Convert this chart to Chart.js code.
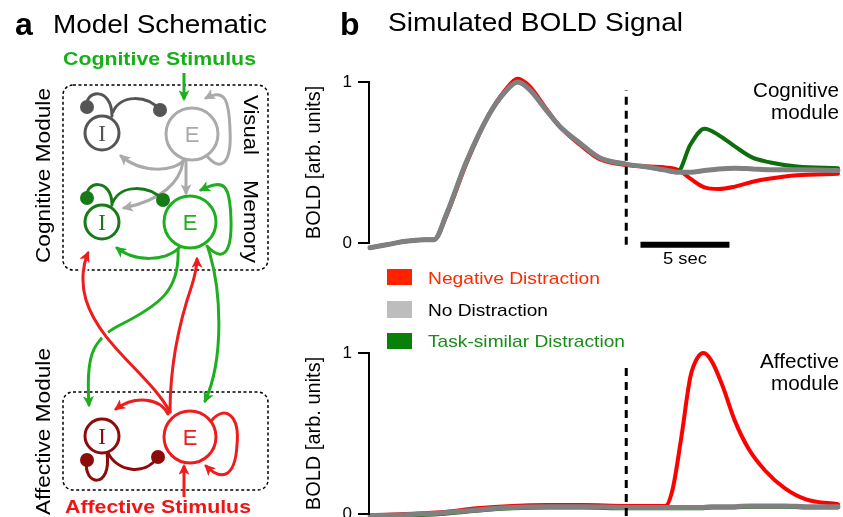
<!DOCTYPE html>
<html>
<head>
<meta charset="utf-8">
<script src="https://cdn.jsdelivr.net/npm/chart.js@4.4.1/dist/chart.umd.min.js"></script>
<style>
html, body { margin:0; padding:0; width:843px; height:517px; overflow:hidden; background:#fff; }
.plot { position:absolute; left:290px; width:553px; height:193px; z-index:1; }
#ov { position:absolute; left:0; top:0; z-index:2; pointer-events:none; }
#ov text { font-family:"Liberation Sans", Arial, Helvetica, sans-serif; }
</style>
</head>
<body>
<div class="plot" style="top:66px"><canvas id="cogChart"></canvas></div>
<div class="plot" style="top:337px"><canvas id="affChart"></canvas></div>

<svg id="ov" width="843" height="517" viewBox="0 0 843 517">
  <defs>
    <marker id="aGray" viewBox="0 0 10 10" refX="8" refY="5" markerWidth="11" markerHeight="11" markerUnits="userSpaceOnUse" orient="auto"><path d="M0,0 L10,5 L0,10 L2.5,5 z" fill="#aaaaaa"/></marker>
    <marker id="aGreen" viewBox="0 0 10 10" refX="8" refY="5" markerWidth="11" markerHeight="11" markerUnits="userSpaceOnUse" orient="auto"><path d="M0,0 L10,5 L0,10 L2.5,5 z" fill="#1fae1f"/></marker>
    <marker id="aRed" viewBox="0 0 10 10" refX="8" refY="5" markerWidth="11" markerHeight="11" markerUnits="userSpaceOnUse" orient="auto"><path d="M0,0 L10,5 L0,10 L2.5,5 z" fill="#ee1c1c"/></marker>
  </defs>

  <!-- panel titles -->
  <text x="15" y="35" font-size="32" font-weight="bold">a</text>
  <text x="53" y="33" font-size="25" textLength="214" lengthAdjust="spacingAndGlyphs">Model Schematic</text>
  <text x="340" y="35" font-size="32" font-weight="bold">b</text>
  <text x="388" y="31" font-size="25" textLength="295" lengthAdjust="spacingAndGlyphs">Simulated BOLD Signal</text>

  <!-- schematic -->
  <text x="63" y="65" font-size="18" font-weight="bold" fill="#18b018" textLength="193" lengthAdjust="spacingAndGlyphs">Cognitive Stimulus</text>
  <text x="65" y="513" font-size="18" font-weight="bold" fill="#f01414" textLength="186" lengthAdjust="spacingAndGlyphs">Affective Stimulus</text>
  <text transform="translate(50,263) rotate(-90)" font-size="21" textLength="175" lengthAdjust="spacingAndGlyphs">Cognitive Module</text>
  <text transform="translate(50,515) rotate(-90)" font-size="21" textLength="167" lengthAdjust="spacingAndGlyphs">Affective Module</text>
  <text transform="translate(244,95) rotate(90)" font-size="20" textLength="60" lengthAdjust="spacingAndGlyphs">Visual</text>
  <text transform="translate(244,180) rotate(90)" font-size="20" textLength="83" lengthAdjust="spacingAndGlyphs">Memory</text>

  <rect x="63" y="85" width="205" height="185" rx="10" fill="none" stroke="#000" stroke-width="1.5" stroke-dasharray="3,2.5"/>
  <rect x="63" y="392" width="205" height="98" rx="10" fill="none" stroke="#000" stroke-width="1.5" stroke-dasharray="3,2.5"/>

  <g fill="none" stroke-width="3" stroke-linecap="round">
    <!-- visual -->
    <path d="M87 107 C84 90, 112 86, 112 116" stroke="#555555"/>
    <path d="M113 112 C120 95, 146 94, 160 110" stroke="#555555"/>
    <path d="M185 159 C175 172, 142 174, 121 156" stroke="#aaaaaa" marker-end="url(#aGray)"/>
    <path d="M207 156 C220 172, 232 165, 230 130 C229 100, 225 88, 206 98" stroke="#aaaaaa" marker-end="url(#aGray)"/>
    <path d="M186 160 L186 193" stroke="#aaaaaa" marker-end="url(#aGray)"/>
    <path d="M183 162 C180 182, 162 200, 124 208" stroke="#aaaaaa" marker-end="url(#aGray)"/>
    <!-- memory -->
    <path d="M87 198 C84 181, 112 177, 112 205" stroke="#177a17"/>
    <path d="M113 202 C121 184, 149 185, 163 200" stroke="#177a17"/>
    <path d="M207 246 C222 262, 232 255, 231 220 C230 185, 225 178, 201 190" stroke="#1fae1f" marker-end="url(#aGreen)"/>
    <path d="M180 247 C165 262, 135 262, 117 248" stroke="#1fae1f" marker-end="url(#aGreen)"/>
    <!-- memory -> affective -->
    <path d="M178 249 C180 290, 160 305, 120 325 C90 340, 86 360, 89 405" stroke="#1fae1f" marker-end="url(#aGreen)"/>
    <path d="M208 248 C222 290, 224 360, 205 401" stroke="#1fae1f" marker-end="url(#aGreen)"/>
    <!-- affective -> memory -->
    <path d="M170 412 C150 375, 100 345, 86 300 C80 280, 84 262, 88 253" stroke="#ffffff" stroke-width="8"/>
    <path d="M170 412 C150 375, 100 345, 86 300 C80 280, 84 262, 88 253" stroke="#ee1c1c" marker-end="url(#aRed)"/>
    <path d="M170 412 C170 360, 180 320, 192 285 C195 275, 197 268, 197 259" stroke="#ee1c1c" marker-end="url(#aRed)"/>
    <!-- affective -->
    <path d="M168 414 C160 398, 135 395, 116 409" stroke="#ee1c1c" marker-end="url(#aRed)"/>
    <path d="M212 420 C225 405, 240 415, 237 445 C235 480, 220 480, 206 466" stroke="#ee1c1c" marker-end="url(#aRed)"/>
    <path d="M87 460 C82 486, 112 490, 107 453" stroke="#8e0b0b"/>
    <path d="M108 453 C118 472, 145 476, 158 457" stroke="#8e0b0b"/>
    <!-- stimuli -->
    <path d="M184 73 L184 99" stroke="#1fae1f" stroke-linecap="butt" marker-end="url(#aGreen)"/>
    <path d="M184 497 L184 466" stroke="#ee1c1c" stroke-linecap="butt" marker-end="url(#aRed)"/>
  </g>

  <g stroke-width="3" fill="#fff">
    <circle cx="102" cy="133" r="17" stroke="#555555"/>
    <circle cx="192" cy="134" r="26" stroke="#aaaaaa"/>
    <circle cx="102" cy="222" r="17" stroke="#177a17"/>
    <circle cx="190" cy="222" r="26" stroke="#1fae1f"/>
    <circle cx="102" cy="436" r="17" stroke="#8e0b0b"/>
    <circle cx="190" cy="437" r="26" stroke="#ee1c1c"/>
  </g>
  <g>
    <circle cx="87" cy="107" r="7" fill="#555555"/>
    <circle cx="160" cy="110" r="7" fill="#555555"/>
    <circle cx="87" cy="198" r="7" fill="#177a17"/>
    <circle cx="163" cy="200" r="7" fill="#177a17"/>
    <circle cx="87" cy="460" r="7" fill="#8e0b0b"/>
    <circle cx="158" cy="457" r="7" fill="#8e0b0b"/>
  </g>
  <g text-anchor="middle">
    <text x="102" y="141" font-size="23" fill="#555555" style="font-family:'Liberation Serif',serif">I</text>
    <text x="192" y="142" font-size="22" fill="#aaaaaa">E</text>
    <text x="102" y="230" font-size="23" fill="#177a17" style="font-family:'Liberation Serif',serif">I</text>
    <text x="190" y="230" font-size="22" fill="#1fae1f">E</text>
    <text x="102" y="444" font-size="23" fill="#8e0b0b" style="font-family:'Liberation Serif',serif">I</text>
    <text x="190" y="445" font-size="22" fill="#ee1c1c">E</text>
  </g>

  <!-- panel b annotations -->
  <text x="753" y="97" font-size="20" textLength="86" lengthAdjust="spacingAndGlyphs">Cognitive</text>
  <text x="771" y="119" font-size="20" textLength="68" lengthAdjust="spacingAndGlyphs">module</text>
  <text x="760" y="368" font-size="20" textLength="79" lengthAdjust="spacingAndGlyphs">Affective</text>
  <text x="771" y="390" font-size="20" textLength="68" lengthAdjust="spacingAndGlyphs">module</text>
  <text x="663" y="264" font-size="16" textLength="44" lengthAdjust="spacingAndGlyphs">5 sec</text>

  <!-- legend -->
  <rect x="387" y="269" width="25" height="16" fill="#ff2200"/>
  <rect x="387" y="301" width="25" height="17" fill="#bdbdbd"/>
  <rect x="387" y="333" width="25" height="16" fill="#0a800a"/>
  <text x="428" y="284" font-size="17" fill="#ff2a00" textLength="172" lengthAdjust="spacingAndGlyphs">Negative Distraction</text>
  <text x="428" y="316" font-size="17" fill="#000" textLength="120" lengthAdjust="spacingAndGlyphs">No Distraction</text>
  <text x="428" y="347" font-size="17" fill="#188c18" textLength="197" lengthAdjust="spacingAndGlyphs">Task-similar Distraction</text>
</svg>

<script>
// time in seconds after trial start, values in arb. units (max normalised to 1)
var cogTime = [0, 1, 2, 3, 3.6, 4.3, 5.4, 6.7, 7.6, 8.3, 9.0, 9.8, 10.7, 11.8, 12.9, 14.4, 15.7, 16.5, 17.3, 18.0, 18.8, 19.6, 20.5, 21.5, 22.5, 24.0, 26.3]
var cogNegative = [-0.03, -0.01, 0.01, 0.02, 0.02, 0.17, 0.49, 0.80, 0.95, 1.02, 0.97, 0.85, 0.72, 0.61, 0.52, 0.485, 0.475, 0.47, 0.455, 0.40, 0.345, 0.335, 0.35, 0.38, 0.40, 0.42, 0.43]
var cogNone = [-0.03, -0.01, 0.01, 0.02, 0.02, 0.18, 0.50, 0.80, 0.94, 1.0, 0.95, 0.84, 0.72, 0.62, 0.53, 0.49, 0.47, 0.455, 0.44, 0.44, 0.45, 0.46, 0.465, 0.46, 0.455, 0.455, 0.45]
var cogTask = [-0.03, -0.01, 0.01, 0.02, 0.02, 0.18, 0.50, 0.80, 0.94, 1.0, 0.95, 0.84, 0.72, 0.62, 0.53, 0.49, 0.47, 0.455, 0.445, 0.61, 0.71, 0.67, 0.60, 0.53, 0.50, 0.475, 0.465]

var affTime = [0, 2, 4, 6, 8, 10, 12, 14.4, 16.0, 16.6, 17.0, 17.5, 18.0, 18.4, 18.75, 19.2, 19.8, 20.5, 21.3, 22.2, 23.3, 24.5, 26.3]
var affNegative = [-0.01, 0.0, 0.01, 0.035, 0.05, 0.055, 0.055, 0.05, 0.05, 0.05, 0.15, 0.48, 0.85, 0.97, 1.0, 0.95, 0.80, 0.58, 0.40, 0.27, 0.16, 0.09, 0.06]
var affNone = [-0.01, -0.005, 0.005, 0.025, 0.04, 0.045, 0.045, 0.04, 0.04, 0.04, 0.04, 0.04, 0.04, 0.04, 0.04, 0.045, 0.045, 0.045, 0.05, 0.05, 0.05, 0.045, 0.045]
var affTask = [-0.015, -0.01, 0.0, 0.02, 0.035, 0.04, 0.04, 0.035, 0.035, 0.035, 0.035, 0.035, 0.035, 0.035, 0.035, 0.04, 0.04, 0.04, 0.045, 0.045, 0.045, 0.04, 0.04]

var distractorAt = 14.4      // dashed line, distractor onset
var scaleBarFrom = 15.2
var scaleBarSec = 5
var yTicks = [0, 1]

var font = '"Liberation Sans", Arial, Helvetica, sans-serif'

function pts(t, v) {
  return t.map(function (x, i) { return {x: x, y: v[i]} })
}

// y axis drawn only between 0 and 1
var axisLine = {
  id: 'axisLine',
  afterDraw: function (chart) {
    var s = chart.scales.y, c = chart.ctx
    var x = s.right - 1
    c.save()
    c.strokeStyle = '#000'
    c.lineWidth = 2
    c.beginPath()
    c.moveTo(x, s.getPixelForValue(1) - 1)
    c.lineTo(x, s.getPixelForValue(0) + 1)
    c.stroke()
    c.restore()
  }
}

function makeChart(id, t, neg, none, task, dashFrom, dashTo, withBar) {
  var sets = [
    {data: [{x: distractorAt, y: dashFrom}, {x: distractorAt, y: dashTo}], borderColor: '#000', borderWidth: 3,
     borderDash: [8, 6], borderCapStyle: 'butt', tension: 0, cubicInterpolationMode: 'default', order: 0},
    {label: 'No Distraction', data: pts(t, none), borderColor: '#808080', borderWidth: 5, order: 1},
    {label: 'Task-similar Distraction', data: pts(t, task), borderColor: '#0c6e0c', borderWidth: 4, order: 2},
    {label: 'Negative Distraction', data: pts(t, neg), borderColor: '#ff0000', borderWidth: 4, order: 3}
  ]
  if (withBar) {
    sets.push({data: [{x: scaleBarFrom, y: -0.012}, {x: scaleBarFrom + scaleBarSec, y: -0.012}], borderColor: '#000',
      borderWidth: 6, borderCapStyle: 'butt', tension: 0, cubicInterpolationMode: 'default', order: 0})
  }
  return new Chart(document.getElementById(id), {
    type: 'line',
    data: {datasets: sets},
    options: {
      responsive: true,
      maintainAspectRatio: false,
      animation: false,
      layout: {autoPadding: false, padding: {left: 0, right: 5, top: 0, bottom: 0}},
      plugins: {legend: {display: false}, tooltip: {enabled: false}},
      elements: {
        point: {radius: 0},
        line: {cubicInterpolationMode: 'monotone', borderCapStyle: 'round', borderJoinStyle: 'round'}
      },
      datasets: {line: {clip: false}},
      scales: {
        x: {type: 'linear', min: 0, max: 26.3, display: false},
        y: {
          min: -0.1, max: 1.1,
          afterFit: function (s) { s.width = 80; s.paddingTop = 0; s.paddingBottom = 0 },
          afterBuildTicks: function (s) { s.ticks = yTicks.map(function (v) { return {value: v} }) },
          border: {display: false},
          grid: {drawOnChartArea: false, drawTicks: true, tickLength: 12, lineWidth: 2, color: '#000'},
          ticks: {color: '#000', font: {family: font, size: 17}, padding: 6},
          title: {display: true, text: 'BOLD [arb. units]', color: '#000',
                  font: {family: font, size: 20}, padding: {top: 12, bottom: 0}}
        }
      }
    },
    plugins: [axisLine]
  })
}

makeChart('cogChart', cogTime, cogNegative, cogNone, cogTask, -0.012, 0.95, true)
makeChart('affChart', affTime, affNegative, affNone, affTask, -0.1, 0.94, false)
</script>
</body>
</html>
